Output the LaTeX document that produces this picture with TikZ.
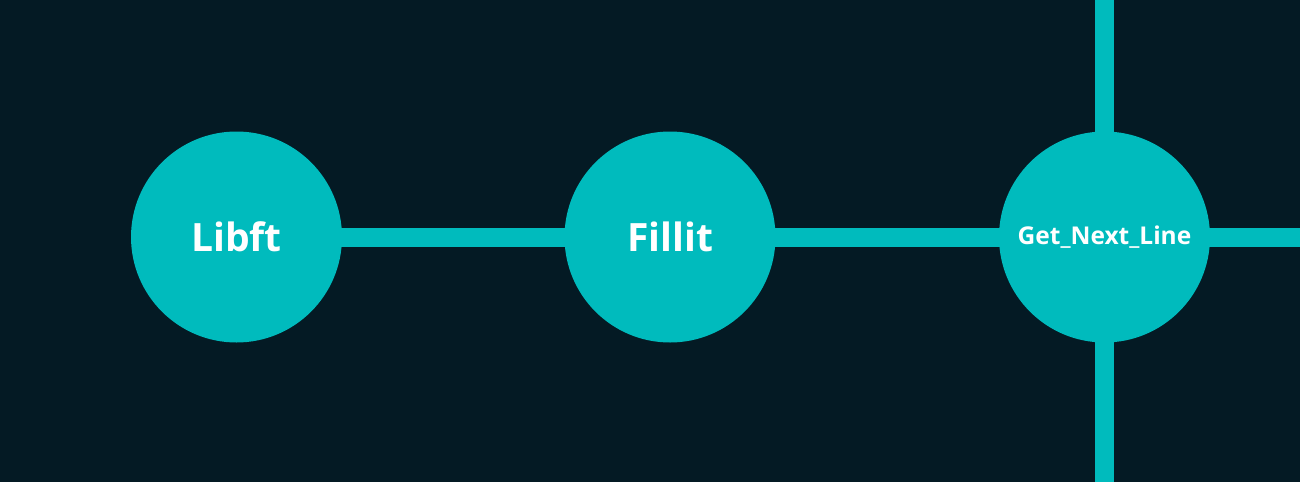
\documentclass[tikz,border=0pt]{standalone}
\usepackage{fontspec}
\setmainfont{Open Sans}
\usepackage{xcolor}
\usepackage{tikz}
\usetikzlibrary{positioning,backgrounds}
\definecolor{nightbg}{RGB}{4,26,36}
\definecolor{projteal}{RGB}{0,187,189}
\tikzset{
  projnode/.style={circle, fill=projteal, draw=none, minimum size=211pt, inner sep=0pt, text=white, font=\bfseries\fontsize{39}{44}\selectfont},
  smallproj/.style={projnode, font=\bfseries\fontsize{24.5}{28}\selectfont},
  track/.style={projteal, line width=19pt}
}

\begin{document}
\begin{tikzpicture}[x=1pt,y=-1pt]
  \useasboundingbox (0,0) rectangle (1300,482);

  % projects
  \node[projnode] (libft) at (236.5,237) {Libft};
  \node[projnode] (fillit) at (670,237) {Fillit};
  \node[smallproj] (gnl) at (1104.5,237) {Get\_Next\_Line};

  % open ends
  \coordinate (gnltop) at (1104.5,0);
  \coordinate (gnlbot) at (1104.5,482);
  \coordinate (gnlright) at (1300,237);

  % canvas and tracks behind the circles
  \begin{scope}[on background layer]
    \fill[nightbg] (0,0) rectangle (1300,482);
    \draw[track] (libft.center) -- (fillit.center);
    \draw[track] (fillit.center) -- (gnl.center);
    \draw[track] (gnl.center) -- (gnlright);
    \draw[track] (gnltop) -- (gnl.center);
    \draw[track] (gnl.center) -- (gnlbot);
  \end{scope}
\end{tikzpicture}
\end{document}
